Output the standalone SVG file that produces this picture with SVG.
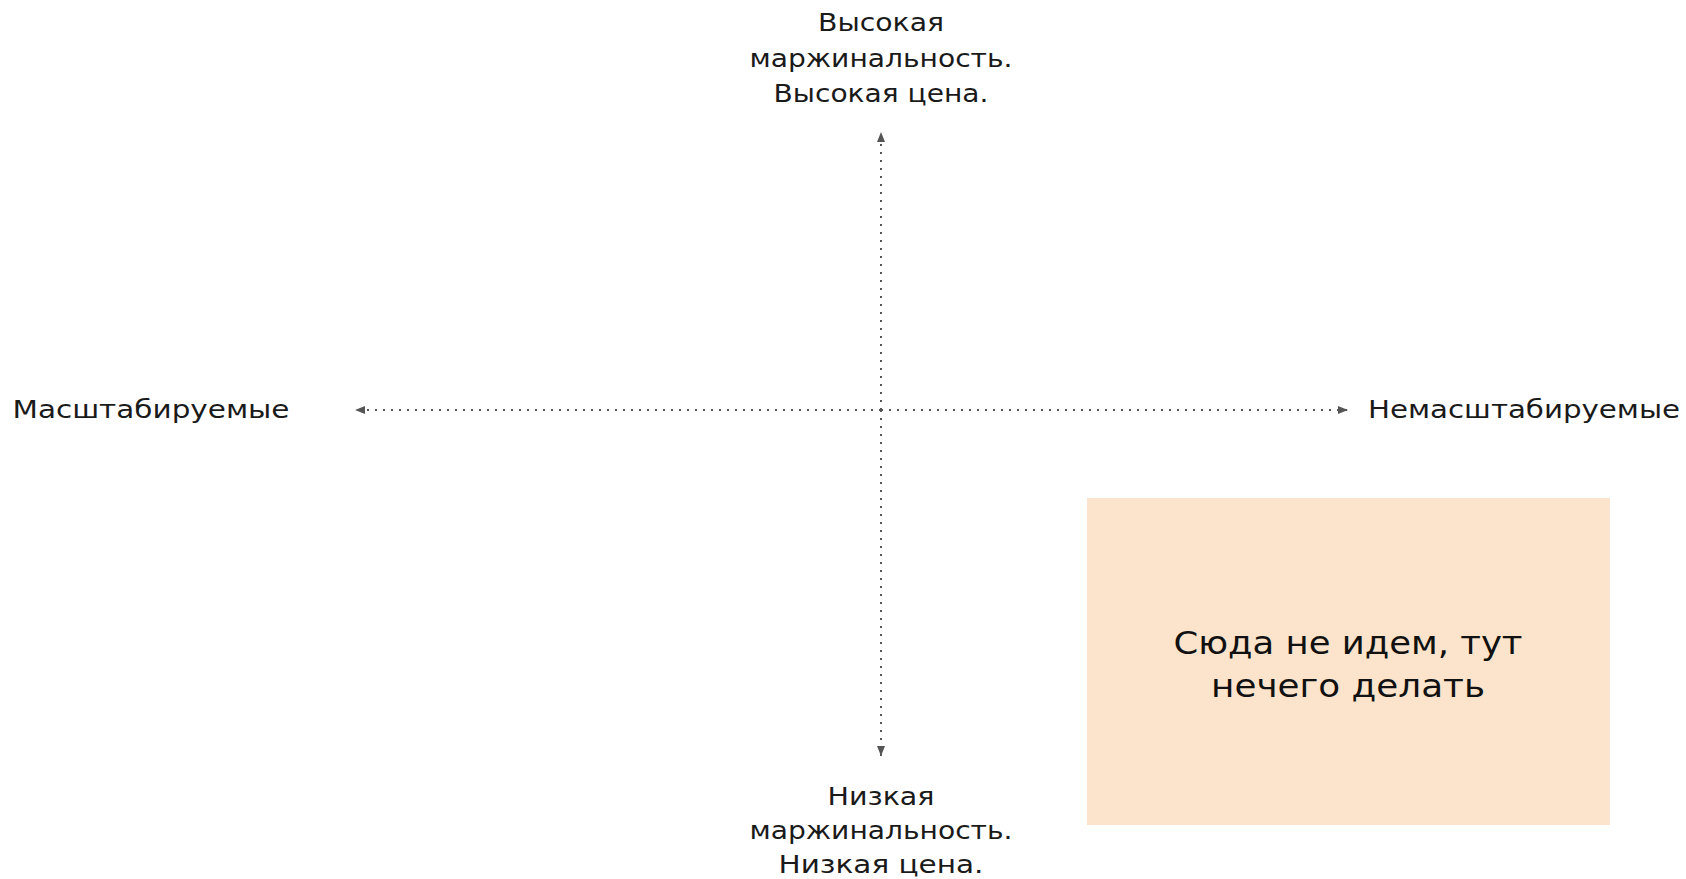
<svg xmlns="http://www.w3.org/2000/svg" width="1686" height="879" viewBox="0 0 1686 879">
<style>
.lbl{font-family:"DejaVu Sans","Open Sans",sans-serif;font-size:24px;fill:#1a1a1a;text-anchor:middle}
.big{font-family:"DejaVu Sans","Open Sans",sans-serif;font-size:32px;fill:#111;text-anchor:middle}
.axis{stroke:#555;stroke-width:2;stroke-dasharray:2 6;fill:none}
</style>
<defs>
<marker id="arr" viewBox="0 0 10 10" refX="10" refY="5" markerWidth="10" markerHeight="10" markerUnits="userSpaceOnUse" orient="auto">
<path d="M0,1 L10,5 L0,9 Z" fill="#555"/>
</marker>
</defs>
<rect width="1686" height="879" fill="#fff"/>
<g id="connectors">
<line class="axis" x1="881" y1="410" x2="881" y2="132" marker-end="url(#arr)"/>
<line class="axis" x1="881" y1="410" x2="881" y2="756" marker-end="url(#arr)"/>
<line class="axis" x1="881" y1="410" x2="355" y2="410" marker-end="url(#arr)"/>
<line class="axis" x1="881" y1="410" x2="1348" y2="410" marker-end="url(#arr)"/>
</g>
<g id="top-label">
<text class="lbl" x="881" y="31" textLength="126" lengthAdjust="spacingAndGlyphs">Высокая</text>
<text class="lbl" x="881" y="67" textLength="263" lengthAdjust="spacingAndGlyphs">маржинальность.</text>
<text class="lbl" x="881" y="102" textLength="215" lengthAdjust="spacingAndGlyphs">Высокая цена.</text>
</g>
<g id="bottom-label">
<text class="lbl" x="881" y="805" textLength="107" lengthAdjust="spacingAndGlyphs">Низкая</text>
<text class="lbl" x="881" y="839" textLength="263" lengthAdjust="spacingAndGlyphs">маржинальность.</text>
<text class="lbl" x="881" y="873" textLength="205" lengthAdjust="spacingAndGlyphs">Низкая цена.</text>
</g>
<g id="left-label">
<text class="lbl" x="151" y="418" textLength="277" lengthAdjust="spacingAndGlyphs">Масштабируемые</text>
</g>
<g id="right-label">
<text class="lbl" x="1524" y="418" textLength="312" lengthAdjust="spacingAndGlyphs">Немасштабируемые</text>
</g>
<g id="box">
<rect x="1087" y="498" width="523" height="327" fill="#fbe4cb"/>
<text class="big" x="1348" y="654" textLength="349" lengthAdjust="spacingAndGlyphs">Сюда не идем, тут</text>
<text class="big" x="1348" y="697" textLength="274" lengthAdjust="spacingAndGlyphs">нечего делать</text>
</g>
</svg>
